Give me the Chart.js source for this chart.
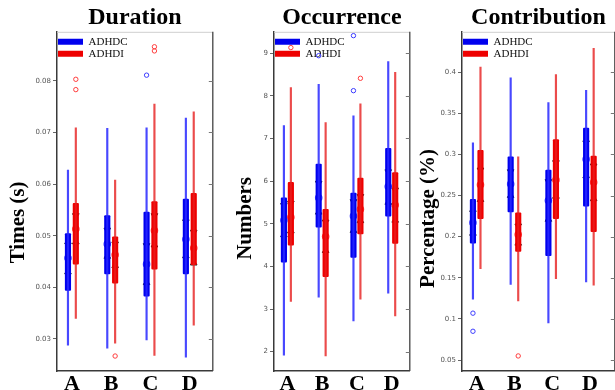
<!DOCTYPE html>
<html>
<head>
<meta charset="utf-8">
<script src="https://cdn.jsdelivr.net/npm/chart.js@4.4.1/dist/chart.umd.min.js"></script>
<style>
  html, body { margin: 0; padding: 0; background: #fff; }
  body { position: relative; width: 615px; height: 390px; overflow: hidden; }
  canvas { position: absolute; top: 0; }
</style>
</head>
<body>
<canvas id="duration" width="218" height="390" style="left:0px"></canvas>
<canvas id="occurrence" width="197" height="390" style="left:218px"></canvas>
<canvas id="contribution" width="205" height="390" style="left:415px"></canvas>
<script>
const categories = ['A', 'B', 'C', 'D'];
const groupLabels = ['ADHDC', 'ADHDI'];

// one row per category: [whisker low, q1, notch low, median, notch high, q3, whisker high]
const durationC = [
  [0.0288, 0.0394, 0.0430, 0.0457, 0.0482, 0.0504, 0.0627],
  [0.0282, 0.0426, 0.0460, 0.0484, 0.0511, 0.0539, 0.0708],
  [0.0298, 0.0383, 0.0409, 0.0445, 0.0481, 0.0546, 0.0709],
  [0.0265, 0.0426, 0.0461, 0.0493, 0.0527, 0.0571, 0.0728]
];
const durationI = [
  [0.0340, 0.0445, 0.0488, 0.0513, 0.0539, 0.0563, 0.0709],
  [0.0292, 0.0408, 0.0442, 0.0463, 0.0484, 0.0498, 0.0608],
  [0.0268, 0.0435, 0.0482, 0.0510, 0.0539, 0.0566, 0.0755],
  [0.0327, 0.0444, 0.0447, 0.0476, 0.0507, 0.0582, 0.0740]
];
const durationOutC = [[], [], [0.0811], []];
const durationOutI = [[0.0803, 0.0783], [0.0267], [0.0866, 0.0858], []];
const durationTicks = [0.03, 0.04, 0.05, 0.06, 0.07, 0.08];

const occurrenceC = [
  [1.92, 4.10, 4.74, 5.08, 5.43, 5.61, 7.30],
  [3.28, 4.92, 5.27, 5.61, 5.95, 6.40, 8.27],
  [2.72, 4.21, 4.84, 5.18, 5.52, 5.72, 7.53],
  [3.37, 5.18, 5.50, 5.87, 6.22, 6.77, 8.80]
];
const occurrenceI = [
  [3.18, 4.50, 4.83, 5.15, 5.48, 5.97, 8.19],
  [1.90, 3.76, 4.37, 4.70, 5.04, 5.34, 7.37],
  [3.23, 4.76, 5.07, 5.34, 5.64, 6.07, 7.81],
  [2.84, 4.54, 5.08, 5.44, 5.79, 6.20, 8.55]
];
const occurrenceOutC = [[], [8.94], [8.12, 9.41], []];
const occurrenceOutI = [[9.13], [], [8.41], []];
const occurrenceTicks = [2, 3, 4, 5, 6, 7, 8, 9];

const contributionC = [
  [0.124, 0.192, 0.204, 0.217, 0.229, 0.2455, 0.314],
  [0.142, 0.230, 0.250, 0.264, 0.279, 0.297, 0.393],
  [0.095, 0.177, 0.221, 0.244, 0.267, 0.281, 0.363],
  [0.145, 0.237, 0.274, 0.294, 0.314, 0.332, 0.378]
];
const contributionI = [
  [0.161, 0.222, 0.245, 0.263, 0.281, 0.305, 0.406],
  [0.122, 0.182, 0.192, 0.2025, 0.213, 0.229, 0.297],
  [0.149, 0.222, 0.249, 0.269, 0.290, 0.318, 0.397],
  [0.141, 0.206, 0.246, 0.266, 0.286, 0.298, 0.429]
];
const contributionOutC = [[0.107, 0.085], [], [], []];
const contributionOutI = [[], [0.055], [], []];
const contributionTicks = [0.05, 0.1, 0.15, 0.2, 0.25, 0.3, 0.35, 0.4];

const serif = "'Liberation Serif', 'DejaVu Serif', serif";
Chart.defaults.font.family = serif;

// top edge, right edge, mirror ticks on the right, and the y title
// (drawn by hand because it sits lower than the axis centre in the original)
const framePlugin = {
  id: 'frame',
  beforeDatasetsDraw(chart, args, opts) {
    const { ctx, chartArea: a } = chart;
    const y = chart.scales.y;
    ctx.save();
    ctx.lineWidth = 1;
    ctx.strokeStyle = '#cfcfcf';
    ctx.beginPath();
    ctx.moveTo(a.left, a.top + 0.5);
    ctx.lineTo(a.right, a.top + 0.5);
    ctx.stroke();
    ctx.strokeStyle = '#444';
    ctx.lineWidth = 1.3;
    ctx.beginPath();
    ctx.moveTo(a.right, a.top);
    ctx.lineTo(a.right, a.bottom);
    ctx.stroke();
    ctx.lineWidth = 1;
    ctx.strokeStyle = '#777';
    ctx.beginPath();
    y.ticks.forEach(t => {
      const py = Math.round(y.getPixelForValue(t.value)) + 0.5;
      ctx.moveTo(a.right - 4, py);
      ctx.lineTo(a.right, py);
    });
    ctx.stroke();

    ctx.translate(opts.titleX, (a.top + a.bottom) / 2 + opts.titleShift);
    ctx.rotate(-Math.PI / 2);
    ctx.fillStyle = '#000';
    ctx.font = 'bold 21px ' + serif;
    ctx.textAlign = 'center';
    ctx.textBaseline = 'middle';
    ctx.fillText(opts.text, 0, 0);
    ctx.restore();
  }
};

function makePanel(id, p) {
  const groups = [
    { label: groupLabels[0], stats: p.statsC, out: p.outC, shift: -0.1,
      box: '#0000ee', line: 'rgba(40,40,255,0.85)', ring: '#3c3cff' },
    { label: groupLabels[1], stats: p.statsI, out: p.outI, shift: 0.1,
      box: '#ee0000', line: 'rgba(230,30,30,0.8)', ring: '#ff3c3c' }
  ];
  const at = (g, k) => g.stats.map((s, i) => ({ x: i + g.shift, y: s[k] }));

  const datasets = [];
  // whiskers
  groups.forEach(g => datasets.push({
    type: 'bar', label: g.label + ' range', grouped: false, barThickness: 1.5,
    backgroundColor: g.line, borderWidth: 0,
    data: g.stats.map((s, i) => ({ x: i + g.shift, y: [s[0], s[6]] }))
  }));
  // boxes (these are the legend entries)
  groups.forEach(g => datasets.push({
    type: 'bar', label: g.label, inLegend: true, grouped: false, barThickness: 5.5,
    backgroundColor: g.box, borderWidth: 0, borderRadius: 1, borderSkipped: false,
    data: g.stats.map((s, i) => ({ x: i + g.shift, y: [s[1], s[5]] }))
  }));
  groups.forEach(g => {
    // notch marks
    datasets.push({
      type: 'scatter', label: 'notch low', data: at(g, 2), pointStyle: 'triangle', rotation: 0,
      pointRadius: 3.8, backgroundColor: 'rgba(70,70,70,0.75)', borderColor: '#1a1a1a', borderWidth: 1
    });
    datasets.push({
      type: 'scatter', label: 'notch high', data: at(g, 4), pointStyle: 'triangle', rotation: 180,
      pointRadius: 3.8, backgroundColor: 'rgba(70,70,70,0.75)', borderColor: '#1a1a1a', borderWidth: 1
    });
    // median
    datasets.push({
      type: 'scatter', label: 'median', data: at(g, 3), pointStyle: 'circle',
      pointRadius: 3.2, backgroundColor: 'rgba(255,255,255,0.8)', borderColor: g.ring, borderWidth: 1.2
    });
    datasets.push({
      type: 'scatter', label: 'median dot', data: at(g, 3), pointStyle: 'circle',
      pointRadius: 1, backgroundColor: '#555', borderWidth: 0
    });
    // outliers
    datasets.push({
      type: 'scatter', label: 'outliers', pointStyle: 'circle', pointRadius: 2.2,
      backgroundColor: 'rgba(0,0,0,0)', borderColor: g.ring, borderWidth: 1,
      data: g.out.flatMap((vals, i) => vals.map(v => ({ x: i + g.shift, y: v })))
    });
  });

  return new Chart(document.getElementById(id), {
    type: 'bar',
    data: { datasets: datasets },
    plugins: [framePlugin],
    options: {
      responsive: false,
      animation: false,
      events: [],
      layout: { padding: { left: 0, right: p.padRight, top: 0, bottom: 0 } },
      scales: {
        x: {
          type: 'linear', offset: false, min: p.xRange[0], max: p.xRange[1],
          afterBuildTicks: s => { s.ticks = categories.map((c, i) => ({ value: i })); },
          afterFit: s => { s.height = 19; },
          grid: { display: false, offset: false },
          border: { display: true, color: '#3a3a3a', width: 1.5 },
          ticks: {
            callback: v => categories[v], padding: -6, color: '#000',
            font: { size: 22, weight: 'bold', lineHeight: 1 }, maxRotation: 0
          }
        },
        y: {
          min: p.yRange[0], max: p.yRange[1],
          afterBuildTicks: s => { s.ticks = p.ticks.map(v => ({ value: v })); },
          afterFit: s => { s.width = p.axisWidth; },
          grid: { drawOnChartArea: false, drawTicks: true, tickLength: 4, tickColor: '#666' },
          border: { display: true, color: '#3a3a3a', width: 1.5 },
          ticks: {
            callback: v => String(v), padding: 2, color: '#555',
            font: { family: "'DejaVu Sans', sans-serif", size: 7 }
          }
        }
      },
      plugins: {
        tooltip: { enabled: false },
        frame: { text: p.yTitle, titleX: p.titleX, titleShift: p.titleShift },
        title: {
          display: true, text: p.title, fullSize: false, color: '#000',
          padding: { top: 3, bottom: 0 },
          font: { size: 24, weight: 'bold', lineHeight: 1.2 }
        },
        legend: {
          position: 'chartArea', align: 'start',
          // the chartArea legend starts at the canvas top, so the empty title pushes it down
          title: { display: true, text: '', padding: { top: 34, bottom: 0 }, font: { size: 1 } },
          labels: {
            boxWidth: 25, boxHeight: 6, padding: 1, color: '#111',
            font: { size: 11 },
            filter: (item, data) => data.datasets[item.datasetIndex].inLegend === true
          }
        }
      }
    }
  });
}

makePanel('duration', {
  title: 'Duration', yTitle: 'Times (s)',
  statsC: durationC, statsI: durationI, outC: durationOutC, outI: durationOutI,
  ticks: durationTicks, yRange: [0.0238, 0.0895], xRange: [-0.379, 3.585],
  axisWidth: 57, titleX: 19, titleShift: 21, padRight: 4
});
makePanel('occurrence', {
  title: 'Occurrence', yTitle: 'Numbers',
  statsC: occurrenceC, statsI: occurrenceI, outC: occurrenceOutC, outI: occurrenceOutI,
  ticks: occurrenceTicks, yRange: [1.547, 9.5], xRange: [-0.385, 3.52],
  axisWidth: 56, titleX: 28, titleShift: 17, padRight: 2
});
makePanel('contribution', {
  title: 'Contribution', yTitle: 'Percentage (%)',
  statsC: contributionC, statsI: contributionI, outC: contributionOutC, outI: contributionOutI,
  ticks: contributionTicks, yRange: [0.0367, 0.449], xRange: [-0.39, 3.66],
  axisWidth: 47, titleX: 14, titleShift: 17, padRight: 1
});
</script>
</body>
</html>
